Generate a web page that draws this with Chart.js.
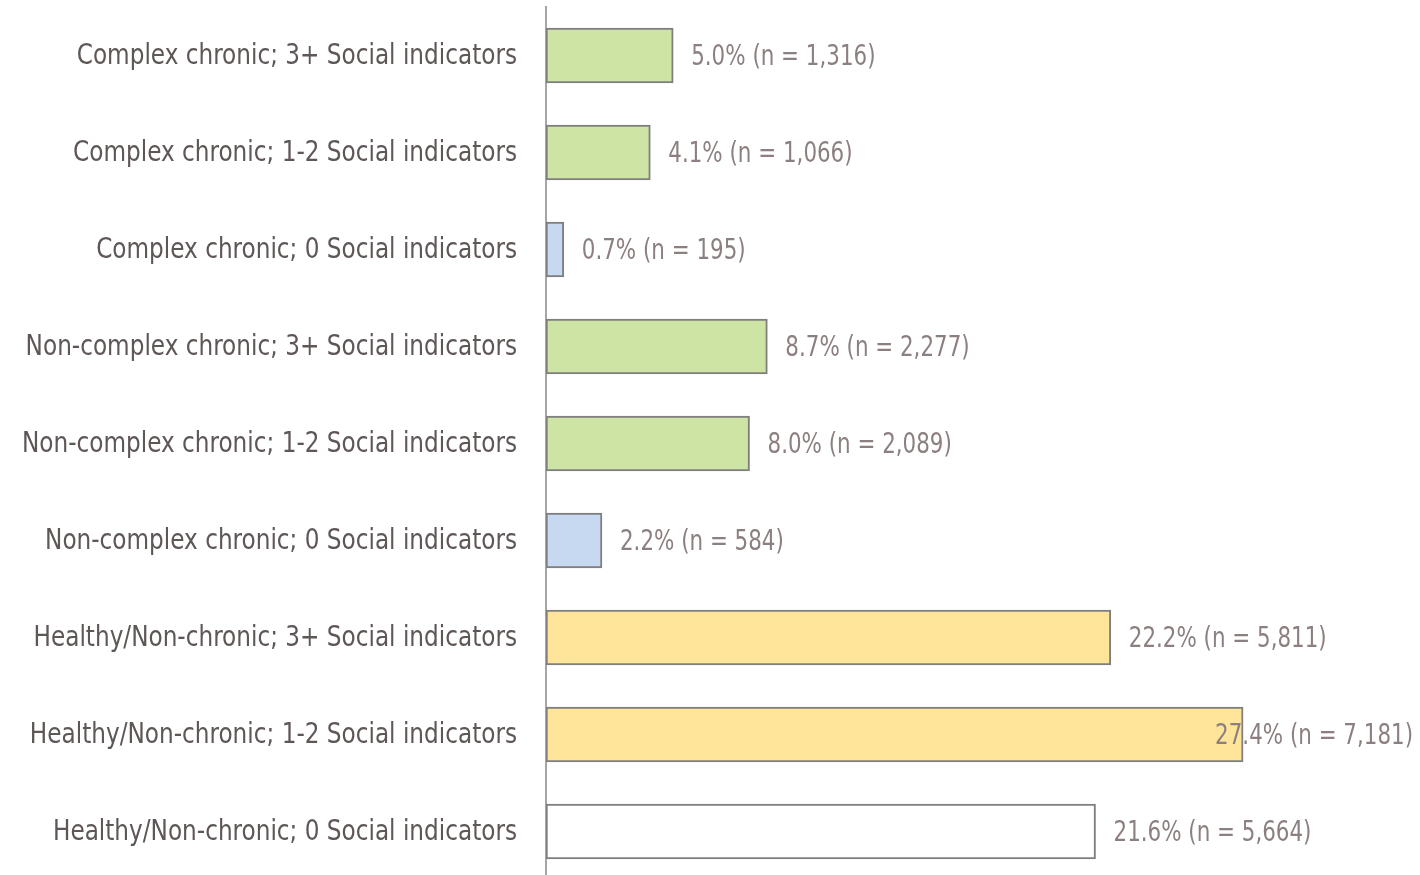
<!DOCTYPE html>
<html>
<head>
<meta charset="utf-8">
<script src="https://cdn.jsdelivr.net/npm/chart.js@4"></script>
<style>
    html, body { margin: 0; padding: 0; background: #fff; overflow: hidden; }
    #wrap { width: 1420px; height: 880px; position: relative; }
</style>
</head>
<body>
<div id="wrap"><canvas id="chart"></canvas></div>
<script>
const categories = [
    'Complex chronic; 3+ Social indicators',
    'Complex chronic; 1-2 Social indicators',
    'Complex chronic; 0 Social indicators',
    'Non-complex chronic; 3+ Social indicators',
    'Non-complex chronic; 1-2 Social indicators',
    'Non-complex chronic; 0 Social indicators',
    'Healthy/Non-chronic; 3+ Social indicators',
    'Healthy/Non-chronic; 1-2 Social indicators',
    'Healthy/Non-chronic; 0 Social indicators'
];
const percents = [5.0, 4.1, 0.7, 8.7, 8.0, 2.2, 22.2, 27.4, 21.6];
const counts = [1316, 1066, 195, 2277, 2089, 584, 5811, 7181, 5664];

const GREEN = '#cde4a5';
const BLUE = '#c6d9f0';
const YELLOW = '#fee599';
const barColors = [GREEN, GREEN, BLUE, GREEN, GREEN, BLUE, YELLOW, YELLOW, '#ffffff'];

const FONT = '"Liberation Sans Narrow", "DejaVu Sans Condensed", sans-serif';
const LABEL_SQUEEZE = 0.92;
const VALUE_SQUEEZE = 0.85;

// draws text squeezed horizontally, to get close to the narrow font of the original
function drawNarrow(ctx, text, x, y, squeeze, align) {
    ctx.save();
    ctx.translate(x, y);
    ctx.scale(squeeze, 1);
    ctx.textAlign = align;
    ctx.fillText(text, 0, 0);
    ctx.restore();
}

// category names on the left and "x.x% (n = n,nnn)" past the end of each bar
const textLabels = {
    id: 'textLabels',
    afterDatasetsDraw(chart) {
        const ctx = chart.ctx;
        const meta = chart.getDatasetMeta(0);
        const yScale = chart.scales.y;
        ctx.save();
        ctx.textBaseline = 'middle';
        ctx.font = '28px ' + FONT;

        ctx.fillStyle = '#5f5656';
        categories.forEach((name, i) => {
            drawNarrow(ctx, name, yScale.right - 29, yScale.getPixelForValue(i) + 1, LABEL_SQUEEZE, 'right');
        });

        ctx.fillStyle = '#8c7f7f';
        meta.data.forEach((bar, i) => {
            const txt = `${percents[i].toFixed(1)}% (n = ${counts[i].toLocaleString('en-US')})`;
            const w = ctx.measureText(txt).width * VALUE_SQUEEZE;
            // keep the label inside the picture, like the original does for the longest bar
            const x = Math.min(bar.x + 18, chart.width - 7 - w);
            drawNarrow(ctx, txt, x, bar.y + 2, VALUE_SQUEEZE, 'left');
        });
        ctx.restore();
    }
};

new Chart(document.getElementById('chart'), {
    type: 'bar',
    data: {
        labels: categories,
        datasets: [{
            data: percents,
            backgroundColor: barColors,
            borderColor: '#7f7f7f',
            borderWidth: 2,
            borderSkipped: false,
            barThickness: 55
        }]
    },
    options: {
        indexAxis: 'y',
        responsive: true,
        maintainAspectRatio: false,
        animation: false,
        layout: { padding: { top: 7, right: 9, bottom: 0, left: 0 } },
        plugins: { legend: { display: false }, tooltip: { enabled: false } },
        scales: {
            x: {
                min: 0,
                max: 34,
                display: false
            },
            y: {
                afterFit(scale) {
                    scale.width = 546;
                    scale.paddingTop = 0;
                    scale.paddingBottom = 0;
                },
                grid: { display: false, drawTicks: false },
                border: { display: true, color: '#a6a6a6', width: 2 },
                ticks: { display: false }
            }
        }
    },
    plugins: [textLabels]
});
</script>
</body>
</html>
